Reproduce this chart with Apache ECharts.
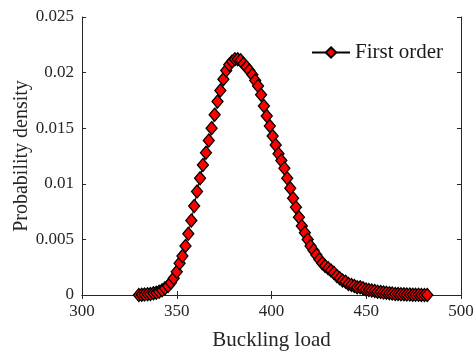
<!DOCTYPE html>
<html><head><meta charset="utf-8">
<script src="https://cdn.jsdelivr.net/npm/echarts@6/dist/echarts.min.js"></script>
<style>html,body{margin:0;padding:0;background:#fff}#c{width:474px;height:353px}</style>
</head><body><div id="c"></div>
<script>
var loadX = [330.0,331.5,333.0,334.6,336.1,337.7,339.2,340.7,342.3,343.8,345.4,346.9,348.4,350.0,351.5,353.0,354.6,356.1,357.7,359.2,360.7,362.3,363.8,365.4,366.9,368.4,370.0,371.5,373.0,374.6,376.1,377.7,379.2,380.7,
382.2,383.7,385.2,386.8,388.3,389.9,391.4,392.9,394.5,396.0,397.5,399.1,400.6,402.2,403.7,405.2,406.8,408.3,409.9,411.4,412.9,414.5,416.0,417.6,419.1,420.6,422.2,423.7,425.3,426.8,428.3,429.9,431.4,432.9,434.5,436.0,437.5,439.1,440.6,442.2,443.7,445.2,446.8,448.3,449.9,451.4,452.9,454.5,456.0,457.6,459.1,460.6,462.2,463.7,465.3,466.8,468.3,469.9,471.4,473.0,474.5,476.0,477.6,479.1,480.7,482.2];
var density = [0,0.00002,0.00004,0.00007,0.0001,0.00015,0.0002,0.0003,0.00042,0.0006,0.0008,0.0011,0.0015,0.0021,0.00285,0.0035,0.0044,0.0055,0.0067,0.0080,0.0093,0.0105,0.0117,0.0128,0.0139,0.0150,0.0162,0.0174,0.0184,0.0194,0.0202,0.0207,0.0210,0.0212,
0.0212,0.0211,0.0208,0.0205,0.0202,0.0198,0.0193,0.0188,0.0180,0.0170,0.0161,0.0152,0.0143,0.0135,0.0127,0.0121,0.0114,0.0105,0.0096,0.0087,0.0079,0.0070,0.0062,0.0056,0.0050,0.0044,0.0040,0.0036,0.0032,0.00285,0.0026,0.0024,0.0022,0.0020,0.0017,0.0015,0.0013,0.0012,0.0010,0.0009,0.0008,0.0007,0.0007,0.0006,0.0005,0.00045,0.0004,0.00035,0.0003,0.00027,0.00023,0.0002,0.00016,0.00013,0.0001,0.00008,0.00007,0.00006,0.00005,0.00004,0.00003,0.00002,0.00002,0.00001,0.00001,0];
var seriesName = 'First order';
var xTicks = [300,350,400,450,500];
var yTicks = [0,0.005,0.01,0.015,0.02,0.025];

var pts = loadX.map(function(x,i){return [x,density[i]];});
var font = 'Liberation Serif';
var ink = '#262626';
var chart = echarts.init(document.getElementById('c'), null, {renderer:'canvas'});
var axCommon = {
  axisLine:{show:true,lineStyle:{color:ink,width:1}},
  axisTick:{show:true,inside:true,length:4,lineStyle:{color:ink}},
  splitLine:{show:false}
};
chart.setOption({
  animation:false,
  backgroundColor:'#fff',
  grid:{left:82,right:13,top:17,bottom:58,containLabel:false,outerBoundsMode:'none'},
  legend:{
    left:311, top:42, padding:0, itemWidth:38, itemHeight:13, itemGap:4,
    textStyle:{fontFamily:font,fontSize:21,color:'#1a1a1a'},
    data:[seriesName]
  },
  xAxis:[
    Object.assign({type:'value',min:xTicks[0],max:xTicks[xTicks.length-1],interval:50,position:'bottom',
      name:'Buckling load',nameLocation:'middle',nameGap:35,nameMoveOverlap:false,
      nameTextStyle:{fontFamily:font,fontSize:21,color:ink},
      axisLabel:{fontFamily:font,fontSize:17,color:ink,margin:8}},axCommon),
    Object.assign({type:'value',min:300,max:500,interval:50,position:'top',axisLabel:{show:false}},axCommon)
  ],
  yAxis:[
    Object.assign({type:'value',min:0,max:0.025,interval:0.005,position:'left',
      name:'Probability density',nameLocation:'middle',nameGap:50,nameMoveOverlap:false,
      nameTextStyle:{fontFamily:font,fontSize:20,color:ink},
      axisLabel:{fontFamily:font,fontSize:17,color:ink,margin:8,
        formatter:function(v){return String(+v.toFixed(3));}}},axCommon),
    Object.assign({type:'value',min:0,max:0.025,interval:0.005,position:'right',axisLabel:{show:false}},axCommon)
  ],
  series:[{
    name:seriesName,type:'line',data:pts,xAxisIndex:0,yAxisIndex:0,
    symbol:'diamond',symbolSize:[11,13],showAllSymbol:true,
    lineStyle:{color:'#000',width:1},
    itemStyle:{color:'#ff0000',borderColor:'#000',borderWidth:1.3}
  }]
});
</script></body></html>
